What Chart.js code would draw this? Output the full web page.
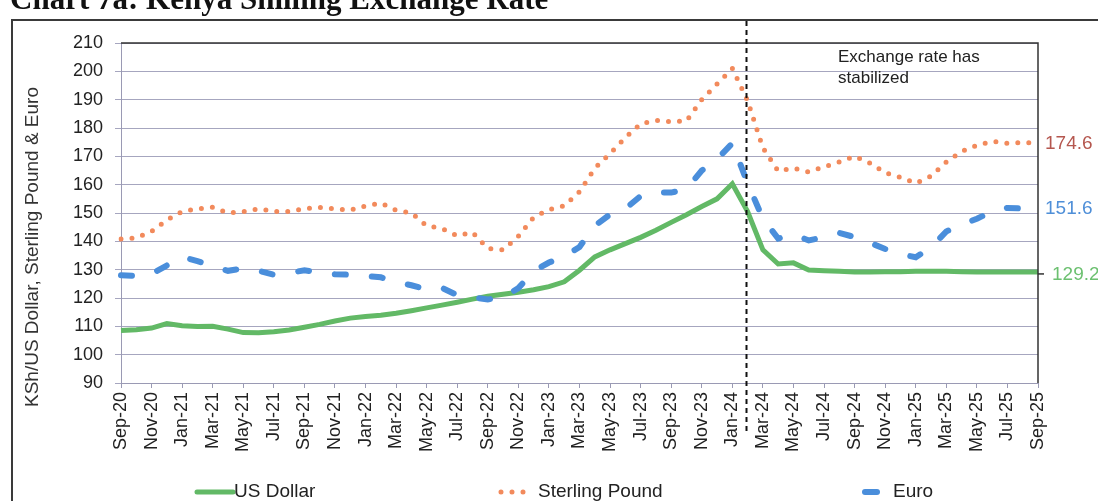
<!DOCTYPE html>
<html>
<head>
<meta charset="utf-8">
<title>Kenya Shilling Exchange Rate</title>
<script src="https://cdn.jsdelivr.net/npm/chart.js@4.4.1/dist/chart.umd.min.js"></script>
<style>
  html, body { margin: 0; padding: 0; background: #fff; overflow: hidden; }
</style>
</head>
<body>
<canvas id="chart" width="1098" height="501"></canvas>
<script>
// DATA
const months = [
  'Sep-20', 'Oct-20', 'Nov-20', 'Dec-20',
  'Jan-21', 'Feb-21', 'Mar-21', 'Apr-21', 'May-21', 'Jun-21', 'Jul-21', 'Aug-21', 'Sep-21', 'Oct-21', 'Nov-21', 'Dec-21',
  'Jan-22', 'Feb-22', 'Mar-22', 'Apr-22', 'May-22', 'Jun-22', 'Jul-22', 'Aug-22', 'Sep-22', 'Oct-22', 'Nov-22', 'Dec-22',
  'Jan-23', 'Feb-23', 'Mar-23', 'Apr-23', 'May-23', 'Jun-23', 'Jul-23', 'Aug-23', 'Sep-23', 'Oct-23', 'Nov-23', 'Dec-23',
  'Jan-24', 'Feb-24', 'Mar-24', 'Apr-24', 'May-24', 'Jun-24', 'Jul-24', 'Aug-24', 'Sep-24', 'Oct-24', 'Nov-24', 'Dec-24',
  'Jan-25', 'Feb-25', 'Mar-25', 'Apr-25', 'May-25', 'Jun-25', 'Jul-25', 'Aug-25', 'Sep-25'
];

const usDollar = [
  108.5, 108.8, 109.4, 111.0,
  110.2, 109.9, 110.0, 109.0, 107.8, 107.7, 108.1, 108.7, 109.7, 110.7, 111.9, 112.9,
  113.5, 113.9, 114.6, 115.5, 116.5, 117.5, 118.5, 119.6, 120.6, 121.3, 122.0, 122.9,
  124.0, 125.7, 129.8, 134.5, 137.0, 139.2, 141.4, 143.9, 146.7, 149.4, 152.3, 155.0,
  160.3, 150.5, 137.0, 132.0, 132.4, 129.9, 129.6, 129.4, 129.2, 129.2, 129.3, 129.3,
  129.4, 129.4, 129.4, 129.3, 129.2, 129.2, 129.2, 129.2, 129.2
];

const sterlingPound = [
  140.8, 141.2, 143.5, 147.5,
  150.5, 151.5, 152.0, 150.0, 150.5, 151.5, 150.5, 150.5, 151.5, 152.0, 151.5, 151.0,
  152.5, 153.5, 151.0, 150.0, 145.5, 144.5, 142.0, 143.2, 137.5, 137.0, 141.8, 148.5,
  151.2, 152.5, 157.5, 165.8, 171.0, 176.6, 181.5, 182.7, 182.2, 182.5, 190.0, 195.5,
  201.0, 189.6, 173.0, 164.8, 165.8, 164.5, 166.3, 168.0, 170.0, 167.6, 164.2, 162.6,
  160.5, 163.0, 168.0, 171.7, 173.9, 175.3, 174.6, 174.9, 174.6
];

const euro = [
  128.0, 127.8, 128.5, 131.5,
  134.5, 133.0, 131.3, 129.6, 130.5, 129.6, 128.2, 128.8, 129.8, 129.0, 128.4, 128.2,
  127.8, 127.3, 125.6, 124.5, 123.0, 123.6, 121.0, 120.2, 119.5, 120.2, 123.5, 129.5,
  132.5, 134.7, 138.0, 145.5, 149.5, 151.5, 156.0, 157.2, 157.2, 158.5, 165.0, 169.0,
  174.6, 160.5, 148.0, 141.0, 142.5, 140.3, 141.5, 143.0, 141.5, 139.5, 137.3, 135.5,
  134.4, 137.8, 143.5, 145.8, 148.0, 150.5, 151.8, 151.6, 151.6
];

const yMin = 90;
const yMax = 210;
const yStep = 10;

const chartTitle = 'Chart 7a: Kenya Shilling Exchange Rate';
const yTitle = 'KSh/US Dollar, Sterling Pound & Euro';
const markerMonth = 'Feb-24';
const noteLines = ['Exchange rate has', 'stabilized'];

// LAYOUT (pixels, not data)
const legendSpots = [
  { x0: 197, x1: 233, textX: 234 },
  { x0: 501, x1: 524, textX: 538 },
  { x0: 865, x1: 877, textX: 893 }
];
const endLabelColors = ['#6cc070', '#b5574f', '#4f8fd8'];

Chart.defaults.font.family = '"Liberation Sans", Arial, sans-serif';

const gridColor = '#a6a6bf';
const axisColor = '#9a9ab4';

// PLUGIN: frame, title, marker, notes, end labels, legend
const pagePlugin = {
  id: 'page',
  beforeDraw(chart) {
    const ctx = chart.ctx;
    ctx.save();
    ctx.fillStyle = '#fff';
    ctx.fillRect(0, 0, chart.width, chart.height);
    ctx.restore();
  },
  afterDraw(chart) {
    const { ctx, chartArea: a, scales } = chart;
    const x = scales.x;
    const y = scales.y;
    ctx.save();

    // title (cut at the top as in the scan)
    ctx.fillStyle = '#111';
    ctx.font = 'bold 31px "Liberation Serif", "Times New Roman", serif';
    ctx.textAlign = 'left';
    ctx.textBaseline = 'alphabetic';
    ctx.fillText(chartTitle, 10, 9);

    // outer box
    ctx.strokeStyle = '#3a3a3a';
    ctx.lineWidth = 2;
    ctx.strokeRect(12, 20, chart.width + 10, chart.height + 10);

    // plot top + right border
    ctx.strokeStyle = '#333';
    ctx.lineWidth = 1.5;
    ctx.beginPath();
    ctx.moveTo(a.left, a.top);
    ctx.lineTo(a.right, a.top);
    ctx.lineTo(a.right, a.bottom);
    ctx.stroke();

    // vertical dashed marker
    const mx = Math.round(x.getPixelForValue(months.indexOf(markerMonth))) - 1.5;
    ctx.strokeStyle = '#111';
    ctx.lineWidth = 2;
    ctx.setLineDash([5, 4]);
    ctx.beginPath();
    ctx.moveTo(mx, 21);
    ctx.lineTo(mx, 432);
    ctx.stroke();
    ctx.setLineDash([]);

    // note
    ctx.fillStyle = '#222';
    ctx.font = '17px "Liberation Sans", Arial, sans-serif';
    ctx.textBaseline = 'middle';
    noteLines.forEach((line, i) => ctx.fillText(line, 838, 57 + i * 21));

    // y title
    ctx.save();
    ctx.translate(33, 247);
    ctx.rotate(-Math.PI / 2);
    ctx.textAlign = 'center';
    ctx.fillStyle = '#333';
    ctx.font = '19px "Liberation Sans", Arial, sans-serif';
    ctx.fillText(yTitle, 0, 0);
    ctx.restore();

    // end labels
    ctx.font = '19px "Liberation Sans", Arial, sans-serif';
    ctx.textAlign = 'left';
    chart.data.datasets.forEach((ds, i) => {
      const last = ds.data[ds.data.length - 1];
      const py = y.getPixelForValue(last);
      ctx.fillStyle = endLabelColors[i];
      if (i === 0) {
        ctx.strokeStyle = '#333';
        ctx.lineWidth = 1.5;
        ctx.beginPath();
        ctx.moveTo(a.right, py + 2);
        ctx.lineTo(a.right + 6, py + 2);
        ctx.stroke();
        ctx.fillText(last.toFixed(1), a.right + 14, py + 3);
      } else {
        ctx.fillText(last.toFixed(1), a.right + 7, py);
      }
    });

    // legend
    ctx.font = '19px "Liberation Sans", Arial, sans-serif';
    chart.data.datasets.forEach((ds, i) => {
      const spot = legendSpots[i];
      const ly = 492;
      ctx.strokeStyle = ds.borderColor;
      ctx.lineWidth = ds.borderWidth;
      ctx.lineCap = 'round';
      ctx.setLineDash(i === 1 ? ds.borderDash : []);
      ctx.beginPath();
      ctx.moveTo(spot.x0, ly);
      ctx.lineTo(spot.x1, ly);
      ctx.stroke();
      ctx.setLineDash([]);
      ctx.fillStyle = '#222';
      ctx.fillText(ds.label, spot.textX, ly);
    });

    ctx.restore();
  }
};

new Chart(document.getElementById('chart'), {
  type: 'line',
  data: {
    labels: months,
    datasets: [
      {
        label: 'US Dollar',
        data: usDollar,
        borderColor: '#62b966',
        borderWidth: 5,
        pointRadius: 0,
        tension: 0,
        order: 2
      },
      {
        label: 'Sterling Pound',
        data: sterlingPound,
        borderColor: '#f28a5c',
        borderWidth: 5,
        borderDash: [0, 11],
        borderCapStyle: 'round',
        pointRadius: 0,
        tension: 0,
        order: 1
      },
      {
        label: 'Euro',
        data: euro,
        borderColor: '#4a8edb',
        borderWidth: 6,
        borderDash: [11, 26],
        borderCapStyle: 'round',
        pointRadius: 0,
        tension: 0,
        order: 0
      }
    ]
  },
  options: {
    responsive: false,
    animation: false,
    devicePixelRatio: 1,
    layout: { padding: { top: 43, right: 60, left: 12, bottom: 0 } },
    plugins: {
      legend: { display: false },
      tooltip: { enabled: false }
    },
    scales: {
      x: {
        type: 'category',
        offset: false,
        grid: {
          drawOnChartArea: false,
          tickLength: 5,
          color: (c) => (c.index % 2 === 0 ? axisColor : 'rgba(0,0,0,0)')
        },
        border: { color: axisColor, width: 1 },
        ticks: {
          autoSkip: false,
          minRotation: 90,
          maxRotation: 90,
          padding: 4,
          color: '#222',
          font: { size: 18 },
          callback: (v, i) => (i % 2 === 0 ? months[i] : '')
        },
        afterFit: (s) => { s.height = 118; }
      },
      y: {
        min: yMin,
        max: yMax,
        ticks: { stepSize: yStep, padding: 12, color: '#222', font: { size: 18 } },
        grid: { color: gridColor, lineWidth: 1, tickLength: 6 },
        border: { color: axisColor, width: 1 },
        afterFit: (s) => { s.width = 109; }
      }
    }
  },
  plugins: [pagePlugin]
});
</script>
</body>
</html>
